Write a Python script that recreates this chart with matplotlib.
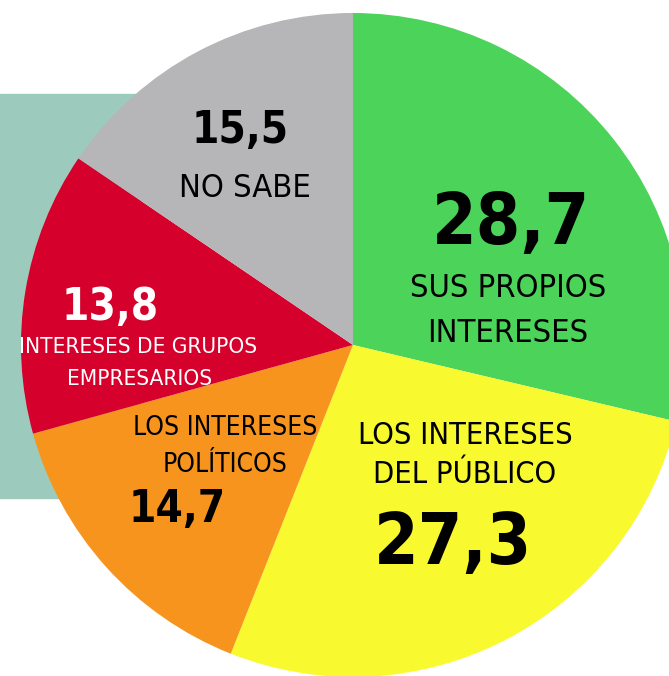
import matplotlib
matplotlib.use('Agg')
import matplotlib.pyplot as plt
from matplotlib.patches import Rectangle
from matplotlib import font_manager as fm

# data, clockwise from the top
labels = ['SUS PROPIOS\nINTERESES', 'LOS INTERESES\nDEL PÚBLICO', 'LOS INTERESES\nPOLÍTICOS',
          'INTERESES DE GRUPOS\nEMPRESARIOS', 'NO SABE']
values = [28.7, 27.3, 14.7, 13.8, 15.5]
value_txt = ['28,7', '27,3', '14,7', '13,8', '15,5']
colors = ['#4cd35a', '#f9f92f', '#f7941e', '#d5002b', '#b6b5b7']

W, H = 669, 676


def narrow_font(bold):
    # look for a condensed face: Liberation Sans Narrow first, then DejaVu Sans Condensed
    want = 'bold' if bold else 'normal'
    found = {}
    for f in fm.fontManager.ttflist:
        w = 'bold' if f.weight in ('bold', 700, 'heavy') else ('normal' if f.weight in ('normal', 400, 'regular', 'book') else None)
        if w != want or f.style != 'normal':
            continue
        if f.name == 'Liberation Sans Narrow':
            found.setdefault(0, f.fname)
        elif 'Condensed' in f.fname and 'DejaVuSans' in f.fname and 'Oblique' not in f.fname:
            found.setdefault(1, f.fname)
    if found:
        return fm.FontProperties(fname=found[min(found)]), min(found)
    return fm.FontProperties(family='DejaVu Sans', weight=want), 2


reg, kind = narrow_font(False)
bld, _ = narrow_font(True)
scale = {0: 1.0, 1: 0.9, 2: 0.8}[kind]

fig = plt.figure(figsize=(W / 100, H / 100), dpi=100)
ax = fig.add_axes([0, 0, 1, 1])

# teal panel behind the pie
ax.add_patch(Rectangle((0, H - 498), 140, 404, color='#9ccbbd', zorder=0))

ax.pie(values, colors=colors, startangle=90, counterclock=False,
       center=(353, H - 345), radius=332, frame=True,
       wedgeprops=dict(linewidth=0, zorder=1))
ax.set_xlim(0, W)
ax.set_ylim(0, H)
ax.set_aspect('equal')
ax.axis('off')


def txt(x, y, s, size, color='black', bold=False):
    fp = (bld if bold else reg).copy()
    fp.set_size(size * scale)
    ax.text(x, H - y, s, fontproperties=fp, color=color, ha='center', va='baseline', zorder=3)


# values: x, baseline y, size
txt(511, 244, value_txt[0], 57, bold=True)
txt(453, 564, value_txt[1], 57, bold=True)
txt(177, 522, value_txt[2], 35, bold=True)
txt(110, 320, value_txt[3], 35, color='white', bold=True)
txt(240, 143, value_txt[4], 35, bold=True)

# labels
l0 = labels[0].split('\n')
txt(508, 297, l0[0], 26)
txt(508, 342, l0[1], 26)
l1 = labels[1].split('\n')
txt(465, 444, l1[0], 24.5)
txt(465, 483, l1[1], 24.5)
l2 = labels[2].split('\n')
txt(225, 435, l2[0], 21)
txt(225, 472, l2[1], 21)
l3 = labels[3].split('\n')
txt(138, 353, l3[0], 18, color='white')
txt(140, 385, l3[1], 18, color='white')
txt(245, 197, labels[4], 26)

plt.savefig('out.png', dpi=100)
plt.close()
